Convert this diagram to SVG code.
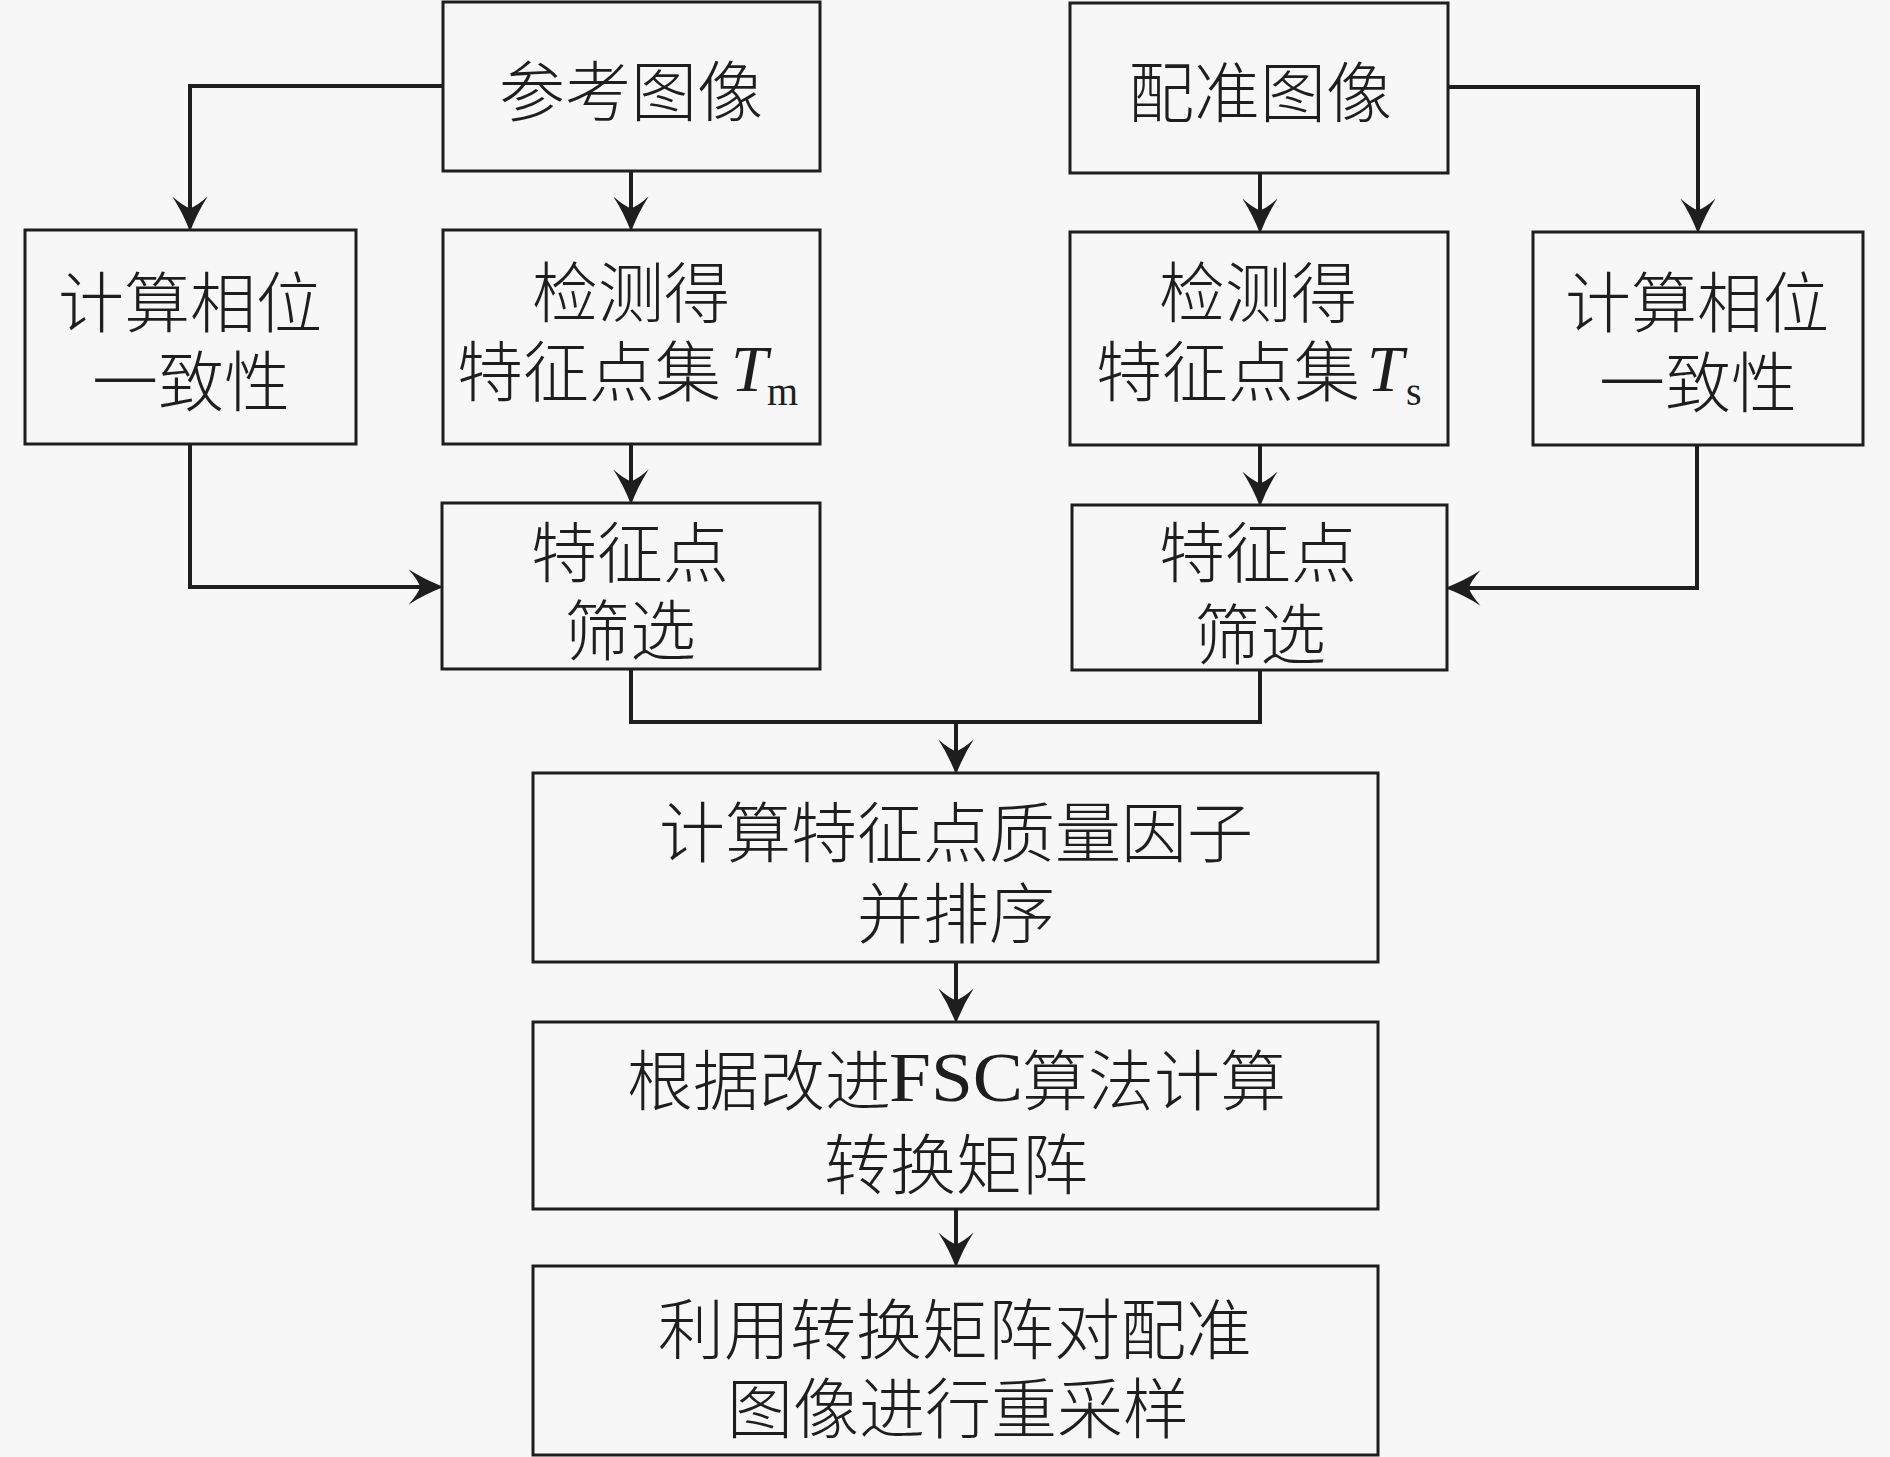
<svg xmlns="http://www.w3.org/2000/svg" width="1890" height="1457" viewBox="0 0 1890 1457">
<style>
.box{fill:#f7f7f7;stroke:#1e1e1e;stroke-width:3}
.cn{font-family:"Noto Sans CJK SC","Liberation Serif",serif;font-size:66px;font-weight:300;fill:#1e1e1e;dominant-baseline:central}
.c{text-anchor:middle}
.it{font-family:"Liberation Serif",serif;font-style:italic;font-size:66px;fill:#1e1e1e}
.sub{font-family:"Liberation Serif",serif;font-size:40px;fill:#1e1e1e}
.rm{font-family:"Liberation Serif",serif;font-size:70px;fill:#1e1e1e;dominant-baseline:central}
.ln{fill:none;stroke:#1e1e1e;stroke-width:4;marker-end:url(#ah)}
.ln2{fill:none;stroke:#1e1e1e;stroke-width:4}
</style>
<defs>
<marker id="ah" markerUnits="userSpaceOnUse" markerWidth="40" markerHeight="40" viewBox="-22 -17 34 34" refX="0" refY="0" orient="auto" overflow="visible">
<path d="M10,0 Q-6,-6 -20,-15 Q-12,-6 -10,0 Q-12,6 -20,15 Q-6,6 10,0 Z" fill="#1e1e1e"/>
</marker>
</defs>
<rect width="1890" height="1457" fill="#f7f7f7"/>
<g id="connectors">
<path class="ln" d="M443,86 H190 V220"/>
<path class="ln" d="M631,171 V220"/>
<path class="ln" d="M1448,87 H1698 V222"/>
<path class="ln" d="M1260,173 V222"/>
<path class="ln" d="M631,444 V493"/>
<path class="ln" d="M1260,445 V495"/>
<path class="ln" d="M190,444 V587 H432"/>
<path class="ln" d="M1697,445 V588 H1457"/>
<path class="ln2" d="M631,669 V722 H1260 V670"/>
<path class="ln" d="M956,722 V763"/>
<path class="ln" d="M956,962 V1012"/>
<path class="ln" d="M956,1209 V1256"/>
</g>
<g id="ref_image">
<rect class="box" x="443" y="2" width="377" height="169"/>
<text class="cn c" x="631" y="87">参考图像</text>
</g>
<g id="sensed_image">
<rect class="box" x="1070" y="3" width="378" height="170"/>
<text class="cn c" x="1260" y="88">配准图像</text>
</g>
<g id="phase_left">
<rect class="box" x="25" y="230" width="331" height="214"/>
<text class="cn c" x="190" y="298">计算相位</text>
<text class="cn c" x="191" y="377">一致性</text>
</g>
<g id="detect_left">
<rect class="box" x="443" y="230" width="377" height="214"/>
<text class="cn c" x="631" y="288">检测得</text>
<text class="cn" x="457" y="367">特征点集</text>
<text class="it" x="731" y="391">T</text>
<text class="sub" x="767" y="405">m</text>
</g>
<g id="detect_right">
<rect class="box" x="1070" y="232" width="378" height="213"/>
<text class="cn c" x="1258" y="288">检测得</text>
<text class="cn" x="1096" y="367">特征点集</text>
<text class="it" x="1367" y="391">T</text>
<text class="sub" x="1406" y="405">s</text>
</g>
<g id="phase_right">
<rect class="box" x="1533" y="232" width="330" height="213"/>
<text class="cn c" x="1697" y="298">计算相位</text>
<text class="cn c" x="1698" y="378">一致性</text>
</g>
<g id="filter_left">
<rect class="box" x="442" y="503" width="378" height="166"/>
<text class="cn c" x="630" y="548">特征点</text>
<text class="cn c" x="630" y="626">筛选</text>
</g>
<g id="filter_right">
<rect class="box" x="1072" y="505" width="375" height="165"/>
<text class="cn c" x="1258" y="548">特征点</text>
<text class="cn c" x="1260" y="630">筛选</text>
</g>
<g id="quality">
<rect class="box" x="533" y="773" width="845" height="189"/>
<text class="cn c" x="956" y="828">计算特征点质量因子</text>
<text class="cn c" x="956" y="909">并排序</text>
</g>
<g id="fsc">
<rect class="box" x="533" y="1022" width="845" height="187"/>
<text class="cn" x="627" y="1076">根据改进</text>
<text class="rm" x="889" y="1077" textLength="134" lengthAdjust="spacingAndGlyphs">FSC</text>
<text class="cn" x="1022" y="1076">算法计算</text>
<text class="cn c" x="956" y="1160">转换矩阵</text>
</g>
<g id="resample">
<rect class="box" x="533" y="1266" width="845" height="189"/>
<text class="cn c" x="955" y="1325">利用转换矩阵对配准</text>
<text class="cn c" x="958" y="1404">图像进行重采样</text>
</g>
</svg>
